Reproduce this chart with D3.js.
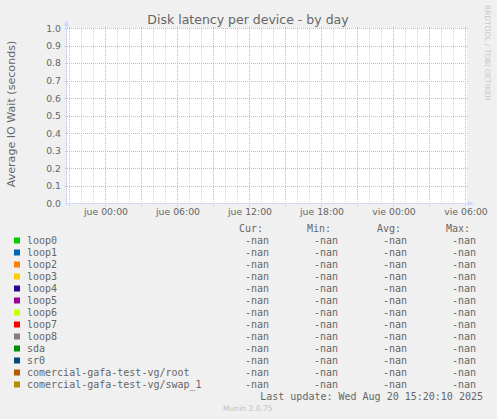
<!DOCTYPE html>
<html>
<head>
<meta charset="utf-8">
<script src="https://d3js.org/d3.v7.min.js"></script>
<style>
  body { margin: 0; background: #f0f0f0; }
  svg { display: block; }
</style>
</head>
<body>
<div id="chart"></div>
<script>
// Chart data (all series are empty: every stat is -nan)
const seriesNames = [
  "loop0", "loop1", "loop2", "loop3", "loop4", "loop5", "loop6",
  "loop7", "loop8", "sda", "sr0",
  "comercial-gafa-test-vg/root", "comercial-gafa-test-vg/swap_1"
];
const seriesColors = [
  "#00cc00", "#0066b3", "#ff8000", "#ffcc00", "#330099", "#990099", "#ccff00",
  "#ff0000", "#808080", "#008f00", "#00487d", "#b35a00", "#b38f00"
];
const curValues = [NaN, NaN, NaN, NaN, NaN, NaN, NaN, NaN, NaN, NaN, NaN, NaN, NaN];
const minValues = [NaN, NaN, NaN, NaN, NaN, NaN, NaN, NaN, NaN, NaN, NaN, NaN, NaN];
const avgValues = [NaN, NaN, NaN, NaN, NaN, NaN, NaN, NaN, NaN, NaN, NaN, NaN, NaN];
const maxValues = [NaN, NaN, NaN, NaN, NaN, NaN, NaN, NaN, NaN, NaN, NaN, NaN, NaN];
const statHeaders = ["Cur:", "Min:", "Avg:", "Max:"];
const yDomain = [0, 1];
const timeDomain = [new Date(2025, 7, 20, 20, 50), new Date(2025, 7, 22, 6, 10)];
const dayNames = ["dom", "lun", "mar", "mié", "jue", "vie", "sáb"];

const title = "Disk latency per device - by day";
const yLabel = "Average IO Wait (seconds)";
const lastUpdate = "Last update: Wed Aug 20 15:20:10 2025";

const width = 497, height = 419;
const plot = { left: 67, right: 467, top: 28.5, bottom: 203.5 };

const fontColor = "#666666";
const axisColor = "#cfd6f8";
const minorGrid = "#d2d2d2";
const majorGrid = "#f6a8a8";

const svg = d3.select("#chart").append("svg")
  .attr("width", width)
  .attr("height", height);

svg.append("rect").attr("width", width).attr("height", height).attr("fill", "#f0f0f0");

const x = d3.scaleTime().domain(timeDomain).range([plot.left, plot.right]);
const y = d3.scaleLinear().domain(yDomain).range([plot.bottom, plot.top]);
const px = v => Math.round(v) + 0.5;

// canvas
svg.append("rect")
  .attr("x", plot.left).attr("y", plot.top - 0.5)
  .attr("width", plot.right - plot.left).attr("height", plot.bottom - plot.top)
  .attr("fill", "#ffffff");

// minor vertical grid, every hour
const grid = svg.append("g").attr("stroke-width", 1).attr("fill", "none")
  .attr("shape-rendering", "crispEdges");
grid.selectAll(".vminor")
  .data(x.ticks(d3.timeHour.every(1)))
  .enter().append("line")
  .attr("x1", d => px(x(d))).attr("x2", d => px(x(d)))
  .attr("y1", plot.top).attr("y2", plot.bottom)
  .attr("stroke", minorGrid)
  .attr("stroke-dasharray", "1,1");

// major vertical grid, every 3 hours
grid.selectAll(".vmajor")
  .data(x.ticks(d3.timeHour.every(3)))
  .enter().append("line")
  .attr("x1", d => px(x(d))).attr("x2", d => px(x(d)))
  .attr("y1", plot.top - 2).attr("y2", plot.bottom + 2)
  .attr("stroke", majorGrid)
  .attr("stroke-dasharray", "1,1");

// horizontal grid
grid.selectAll(".hmajor")
  .data(y.ticks(10))
  .enter().append("line")
  .attr("x1", plot.left - 2).attr("x2", plot.right + 2)
  .attr("y1", d => px(y(d) - 0.5)).attr("y2", d => px(y(d) - 0.5))
  .attr("stroke", majorGrid)
  .attr("stroke-dasharray", "1,1");

// y tick labels
svg.append("g")
  .selectAll("text")
  .data(y.ticks(10))
  .enter().append("text")
  .attr("x", 61)
  .attr("y", d => Math.round(y(d)) + 3)
  .attr("text-anchor", "end")
  .attr("font-family", "DejaVu Sans")
  .attr("font-size", 9.3)
  .attr("fill", fontColor)
  .text(d => d.toFixed(1));

// x tick labels, every 6 hours
const fmtTime = d3.timeFormat("%H:%M");
svg.append("g")
  .selectAll("text")
  .data(x.ticks(d3.timeHour.every(6)))
  .enter().append("text")
  .attr("x", d => x(d) + 1)
  .attr("y", 215)
  .attr("text-anchor", "middle")
  .attr("font-family", "DejaVu Sans")
  .attr("font-size", 9.3)
  .attr("fill", fontColor)
  .text(d => dayNames[d.getDay()] + " " + fmtTime(d));

// axes with arrows
svg.append("line")
  .attr("x1", plot.left - 0.5).attr("x2", plot.left - 0.5)
  .attr("y1", plot.bottom + 2).attr("y2", 25)
  .attr("stroke", axisColor);
svg.append("path")
  .attr("d", `M${plot.left - 3},26 L${plot.left - 0.5},20 L${plot.left + 2},26 Z`)
  .attr("fill", axisColor);
svg.append("line")
  .attr("x1", plot.left - 2).attr("x2", plot.right + 2)
  .attr("y1", plot.bottom).attr("y2", plot.bottom)
  .attr("stroke", axisColor);
svg.append("path")
  .attr("d", `M${plot.right + 1},${plot.bottom - 2.5} L${plot.right + 7},${plot.bottom} L${plot.right + 1},${plot.bottom + 2.5} Z`)
  .attr("fill", axisColor);

// title
svg.append("text")
  .attr("x", 248).attr("y", 23.5)
  .attr("text-anchor", "middle")
  .attr("font-family", "DejaVu Sans")
  .attr("font-size", 12.5)
  .attr("fill", fontColor)
  .text(title);

// y axis label
svg.append("text")
  .attr("transform", "translate(15,114) rotate(-90)")
  .attr("text-anchor", "middle")
  .attr("font-family", "DejaVu Sans")
  .attr("font-size", 11.1)
  .attr("fill", fontColor)
  .text(yLabel);

// watermark
svg.append("text")
  .attr("transform", "translate(485,5) rotate(90)")
  .attr("font-family", "DejaVu Sans")
  .attr("font-size", 7.45)
  .attr("fill", "#c8c8c8")
  .text("RRDTOOL / TOBI OETIKER");

// legend
const fmtVal = v => (isNaN(v) ? "-nan" : d3.format(".2f")(v));
const statCols = [curValues, minValues, avgValues, maxValues];
const statRight = [269, 338, 407, 476];
const headerRight = [263, 331, 401, 470];
const rowY = i => 243.5 + 12 * i;
const mono = "DejaVu Sans Mono";

const legend = svg.append("g")
  .attr("font-family", mono)
  .attr("font-size", 10)
  .attr("fill", fontColor);

legend.selectAll(".hdr")
  .data(statHeaders)
  .enter().append("text")
  .attr("x", (d, i) => headerRight[i])
  .attr("y", rowY(-1))
  .attr("text-anchor", "end")
  .text(d => d);

const rows = legend.selectAll(".row")
  .data(seriesNames)
  .enter().append("g");

rows.append("rect")
  .attr("x", 14).attr("y", (d, i) => rowY(i) - 6)
  .attr("width", 6).attr("height", 6)
  .attr("fill", (d, i) => seriesColors[i]);

rows.append("text")
  .attr("x", 27).attr("y", (d, i) => rowY(i))
  .text(d => d);

statCols.forEach((col, c) => {
  legend.selectAll(".col" + c)
    .data(col)
    .enter().append("text")
    .attr("x", statRight[c])
    .attr("y", (d, i) => rowY(i))
    .attr("text-anchor", "end")
    .text(d => fmtVal(d));
});

legend.append("text")
  .attr("x", 483).attr("y", rowY(seriesNames.length))
  .attr("text-anchor", "end")
  .text(lastUpdate);

svg.append("text")
  .attr("x", 223).attr("y", 411)
  .attr("font-family", "DejaVu Sans")
  .attr("font-size", 7.6)
  .attr("fill", "#c0c0c0")
  .text("Munin 2.0.75");
</script>
</body>
</html>
